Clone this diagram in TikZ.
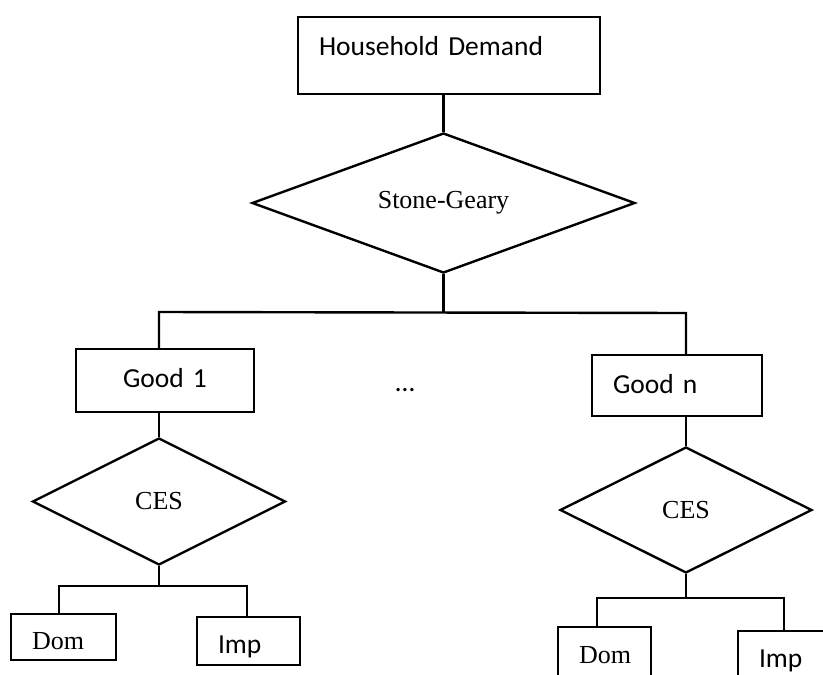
\documentclass[tikz,border=0pt]{standalone}
\usepackage{fontspec}
\setmainfont{Liberation Serif}
\newfontfamily\calibri{Carlito}
\usetikzlibrary{shapes.geometric}

\begin{document}
\begin{tikzpicture}[
                      x = 1pt,
                      y = -1pt,
             line width = 2.4pt,
              box/.style = {draw, rectangle, line width=2.2pt, inner xsep=21pt, inner ysep=0pt,
                            align=left, font=\calibri\fontsize{27.5}{33}\selectfont},
             leaf/.style = {box, text height=24pt, text depth=0pt},
            serif/.style = {font=\rmfamily\fontsize{26}{30}\selectfont},
           choice/.style = {draw, diamond, line width=2.4pt, inner sep=0pt,
                            font=\rmfamily\fontsize{26}{30}\selectfont},
                     ]
\useasboundingbox (0,0) rectangle (823,675);
\clip (0,0) rectangle (823,675);

% top level
\node[box, text width=260pt, minimum height=77pt, text height=20pt, text depth=21pt] (hd) at (449,55.5) {Household Demand};
\node[choice, minimum width=383pt, minimum height=140pt, aspect=2.7] (sg) at (443.5,203) {Stone-Geary};

% goods
\node[box, align=center, text width=136pt, minimum height=63pt, text height=13pt, text depth=0pt] (g1) at (165,380.5) {Good 1};
\node[box, text width=128pt, minimum height=61pt, text height=15pt, text depth=0pt] (gn) at (677,385.5) {Good n};
\node[font=\calibri\fontsize{27.5}{33}\selectfont, inner sep=0pt] (dots) at (405,390) {…};

\node[choice, minimum width=253pt, minimum height=127pt, aspect=2] (ces1) at (159,501.5) {CES};
\node[choice, minimum width=252pt, minimum height=126pt, aspect=2] (cesn) at (686,510) {CES};

% domestic and imported
\node[leaf, serif, text width=63pt, minimum height=46pt] (dom1) at (63.5,637) {Dom};
\node[leaf, text width=61pt, minimum height=48pt] (imp1) at (248.5,641) {Imp};
\node[leaf, serif, text width=51pt, minimum height=50pt, text height=22pt] (domn) at (604.5,652) {Dom};
\node[leaf, text width=61pt, minimum height=50pt, text height=22pt] (impn) at (789.5,656) {Imp};

\coordinate (bar1) at (159,312);
\coordinate (barn) at (686,313);
\coordinate (c1l) at (59,586);
\coordinate (c1r) at (247,586);
\coordinate (cnl) at (597,598);
\coordinate (cnr) at (784,598);

\draw (sg.north) -- (sg.north |- hd.south);
\draw (sg.south) -- (sg.south |- bar1);
\draw (g1.north -| bar1) -- (bar1) -- (barn) -- (gn.north -| barn);
\draw (g1.south -| ces1.north) -- (ces1.north);
\draw (gn.south -| cesn.north) -- (cesn.north);
\draw (ces1.south) -- (ces1.south |- c1l);
\draw (dom1.north -| c1l) -- (c1l) -- (c1r) -- (imp1.north -| c1r);
\draw (cesn.south) -- (cesn.south |- cnl);
\draw (domn.north -| cnl) -- (cnl) -- (cnr) -- (impn.north -| cnr);
\end{tikzpicture}
\end{document}
